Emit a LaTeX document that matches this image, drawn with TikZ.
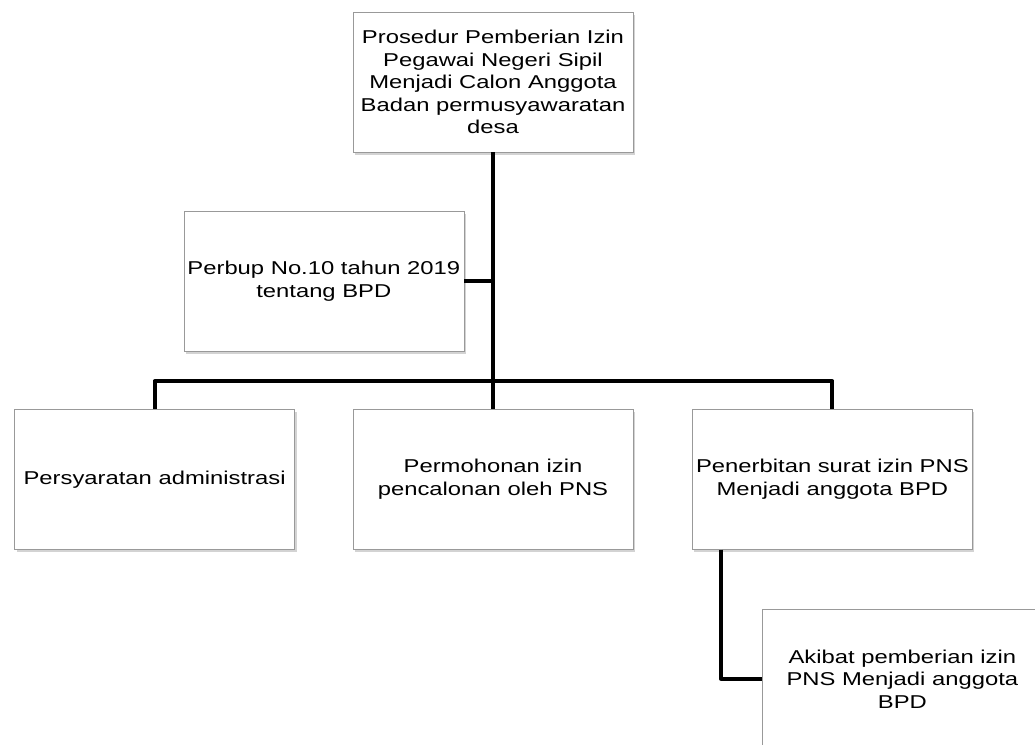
\documentclass[tikz,border=0pt]{standalone}
\usepackage{fontspec}
\setmainfont{Liberation Sans}
\newfontfamily\boxfont[FakeStretch=1.28]{Liberation Sans}
\usetikzlibrary{positioning,shadows}

\begin{document}
\begin{tikzpicture}[x=1pt, y=1pt,
  box/.style={draw=gray!80, fill=white, minimum width=280pt, minimum height=140pt,
    align=center, inner sep=2pt,
    drop shadow={shadow xshift=2pt, shadow yshift=-3pt, opacity=0.35, fill=gray},
    font=\boxfont\fontsize{18.6}{22.5}\selectfont},
  link/.style={line width=4pt, line join=round}]

  \useasboundingbox (0,0) rectangle (1035,-744);
  \clip (0,0) rectangle (1035,-744);

  % Top
  \node[box] (T) at (493,-82) {Prosedur Pemberian Izin\\Pegawai Negeri Sipil\\Menjadi Calon Anggota\\Badan permusyawaratan\\desa};

  % Legal basis
  \node[box, below left=59pt and 29pt of T.south, anchor=north east] (P) {Perbup No.10 tahun 2019\\tentang BPD};

  % Row of steps
  \node[box, below=257pt of T] (M) {Permohonan izin\\pencalonan oleh PNS};
  \node[box, left=58pt of M] (L) {Persyaratan administrasi};
  \node[box, right=59pt of M] (R) {Penerbitan surat izin PNS\\Menjadi anggota BPD};

  % Result
  \node[box, below right=59pt and 70pt of R.south west, anchor=north west] (A) {Akibat pemberian izin\\PNS Menjadi anggota\\BPD};

  % Connectors
  \draw[link] (T.south) -- (M.north);
  \draw[link] (P.east) -- (P.east -| T.south);
  \draw[link] (L.north) -- ++(0,28) -| (R.north);
  \draw[link] ([xshift=29pt]R.south west) |- (A.west);

\end{tikzpicture}
\end{document}
